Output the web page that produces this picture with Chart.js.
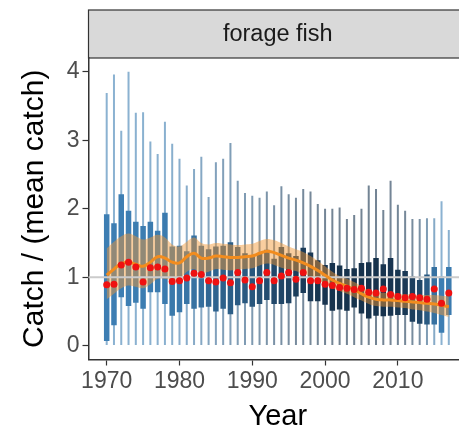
<!DOCTYPE html>
<html><head><meta charset="utf-8">
<script src="https://cdn.jsdelivr.net/npm/chart.js@4/dist/chart.umd.min.js"></script>
<style>
html,body{margin:0;padding:0;background:#fff;overflow:hidden;width:459px;height:431px;}
#wrap{position:absolute;left:0;top:0;width:471px;height:431px;}
</style></head><body>
<div id="wrap"><canvas id="c"></canvas></div>
<script>
// ---- data ----
const panelTitle = 'forage fish';
const years = [1970,1971,1972,1973,1974,1975,1976,1977,1978,1979,1980,1981,1982,1983,1984,1985,1986,1987,1988,1989,
  1990,1991,1992,1993,1994,1995,1996,1997,1998,1999,2000,2001,2002,2003,2004,2005,2006,2007,2008,2009,
  2010,2011,2012,2013,2014,2015,2016,2017];
const whiskerLow = [0.01,0.01,0.01,0.01,0.01,0.01,0.01,0.01,0.01,0.01,0.01,0.01,0.01,0.01,0.01,0.01,0.01,0.01,0.01,0.01,
  0.01,0.01,0.01,0.01,0.01,0.01,0.01,0.01,0.01,0.01,0.01,0.01,0.01,0.01,0.01,0.01,0.01,0.01,0.01,0.01,
  0.01,0.01,0.01,0.01,0.01,0.01,0.01,0.01];
const whiskerHigh = [3.69,3.96,3.14,4.00,3.40,3.41,2.98,2.80,3.27,2.95,2.73,2.34,2.58,2.76,2.17,2.68,2.73,2.96,2.41,2.23,
  2.19,2.16,2.25,2.05,2.33,2.21,2.16,2.29,2.25,2.07,2.00,2.00,2.02,1.85,1.91,2.00,2.34,2.29,1.98,2.41,
  2.06,1.97,1.85,1.85,1.86,1.86,2.11,1.69];
const boxLow = [0.07,0.30,0.71,0.58,0.63,0.54,0.78,0.78,0.61,0.44,0.49,0.61,0.54,0.56,0.57,0.50,0.54,0.46,0.59,0.62,
  0.57,0.61,0.67,0.61,0.61,0.62,0.72,0.77,0.65,0.65,0.60,0.51,0.53,0.51,0.56,0.47,0.40,0.44,0.43,0.44,
  0.45,0.45,0.35,0.32,0.31,0.31,0.19,0.45];
const boxHigh = [1.92,1.79,2.21,1.97,1.81,1.75,1.81,1.68,1.94,1.45,1.46,1.38,1.61,1.46,1.41,1.45,1.46,1.51,1.44,1.35,
  1.30,1.34,1.40,1.27,1.44,1.35,1.31,1.43,1.36,1.25,1.18,1.21,1.17,1.12,1.13,1.21,1.22,1.28,1.19,1.28,
  1.11,1.09,1.01,0.96,1.04,1.15,1.01,1.15];
const medians = [0.89,0.90,1.18,1.22,1.15,0.93,1.14,1.15,1.12,0.94,0.95,0.99,1.06,1.04,0.95,0.93,0.99,0.92,1.07,0.96,
  0.86,0.95,1.07,0.95,1.02,1.07,0.97,1.07,0.95,0.95,0.90,0.88,0.85,0.84,0.82,0.84,0.78,0.77,0.83,0.75,
  0.72,0.70,0.72,0.70,0.68,0.83,0.62,0.77];
const trend = [1.03,1.12,1.20,1.22,1.19,1.16,1.22,1.30,1.28,1.22,1.21,1.30,1.35,1.28,1.28,1.31,1.30,1.29,1.29,1.30,
  1.31,1.35,1.38,1.36,1.32,1.28,1.25,1.21,1.16,1.10,1.03,0.96,0.91,0.87,0.82,0.76,0.71,0.68,0.67,0.67,
  0.66,0.65,0.64,0.63,0.62,0.61,0.59,0.57];
const trendHigh = [1.42,1.52,1.60,1.64,1.60,1.55,1.58,1.62,1.58,1.48,1.45,1.52,1.58,1.50,1.48,1.50,1.49,1.48,1.47,1.48,
  1.49,1.53,1.56,1.54,1.50,1.45,1.41,1.37,1.31,1.24,1.16,1.08,1.02,0.98,0.93,0.87,0.81,0.78,0.77,0.77,
  0.76,0.75,0.75,0.74,0.74,0.74,0.73,0.72];
const trendLow = [0.68,0.76,0.84,0.88,0.86,0.84,0.90,0.98,0.98,0.96,0.97,1.08,1.12,1.06,1.08,1.12,1.11,1.10,1.11,1.12,
  1.13,1.17,1.20,1.18,1.14,1.11,1.09,1.05,1.01,0.96,0.90,0.84,0.80,0.76,0.71,0.66,0.61,0.58,0.57,0.57,
  0.56,0.55,0.53,0.52,0.50,0.48,0.45,0.42];
// value mapped to the fill colour scale (0 = dark, 1 = light)
const colourValue = [0.62,0.62,0.62,0.62,0.61,0.61,0.60,0.60,0.60,0.58,0.57,0.55,0.53,0.50,0.45,0.42,0.40,0.38,0.36,0.34,
  0.32,0.28,0.25,0.22,0.20,0.17,0.14,0.12,0.10,0.08,0.07,0.06,0.05,0.05,0.05,0.05,0.05,0.05,0.06,0.07,
  0.08,0.10,0.15,0.20,0.35,0.52,0.62,0.60];
const referenceLevel = 1;
const xTickValues = [1970,1980,1990,2000,2010];
const yTickValues = [0,1,2,3,4];
const xTitle = 'Year';
const yTitle = 'Catch / (mean catch)';

// ---- styling ----
const FONT = "'Liberation Sans', Arial, Helvetica, sans-serif";
const xMin = 1967.5, xMax = 2019.5, yMin = -0.2, yMax = 4.2;
const lowC = [19,43,67], highC = [86,177,247];
function shade(v, a){
  const c = lowC.map((l,k)=>Math.round(l + (highC[k]-l)*v));
  return `rgba(${c[0]},${c[1]},${c[2]},${a})`;
}
const rangePts = (lo, hi) => years.map((yr,i)=>({x:yr, y:[lo[i], hi[i]]}));
const linePts = arr => years.map((yr,i)=>({x:yr, y:arr[i]}));

const stripPlugin = {
  id:'strip',
  beforeDraw(chart){
    const t = chart.titleBlock, ca = chart.chartArea, ctx = chart.ctx;
    if(!t) return;
    ctx.save();
    ctx.fillStyle = '#d9d9d9';
    ctx.fillRect(ca.left, t.top, ca.right-ca.left, t.bottom-t.top);
    ctx.strokeStyle = '#333';
    ctx.lineWidth = 1.2;
    ctx.strokeRect(ca.left, t.top, ca.right-ca.left, t.bottom-t.top);
    ctx.restore();
  }
};

new Chart(document.getElementById('c'), {
  type:'bar',
  data:{
    datasets:[
      {type:'bar', label:'range', data:rangePts(whiskerLow, whiskerHigh),
        backgroundColor:years.map((_,i)=>shade(colourValue[i],0.6)), barThickness:2, inflateAmount:0, grouped:false, order:6},
      {type:'bar', label:'interquartile', data:rangePts(boxLow, boxHigh),
        backgroundColor:years.map((_,i)=>shade(colourValue[i],1)), barThickness:5.5, inflateAmount:0, grouped:false, order:5},
      {type:'line', label:'trend upper', data:linePts(trendHigh), borderWidth:0, pointRadius:0,
        fill:'+1', backgroundColor:'rgba(243,150,50,0.47)', tension:0.4, order:4},
      {type:'line', label:'trend lower', data:linePts(trendLow), borderWidth:0, pointRadius:0,
        fill:false, tension:0.4, order:4},
      {type:'line', label:'reference', data:[{x:xMin-5,y:referenceLevel},{x:xMax+5,y:referenceLevel}],
        borderColor:'#cbcbcb', borderWidth:2, pointRadius:0, fill:false, order:3},
      {type:'line', label:'trend', data:linePts(trend), borderColor:'#f28c1e', borderWidth:3,
        pointRadius:0, fill:false, tension:0.4, order:2},
      {type:'scatter', label:'median', data:linePts(medians), backgroundColor:'#ee1111',
        pointRadius:3.5, pointBorderWidth:0, order:1}
    ]
  },
  options:{
    responsive:true, maintainAspectRatio:false, animation:false,
    layout:{padding:{top:10,left:0,right:0,bottom:0}},
    plugins:{
      legend:{display:false}, tooltip:{enabled:false},
      title:{display:true, text:panelTitle, fullSize:false, color:'#1a1a1a',
        font:{family:FONT, size:23.5, weight:'normal', lineHeight:1.2}, padding:{top:10,bottom:9.8}}
    },
    scales:{
      x:{type:'linear', min:xMin, max:xMax, offset:false,
        afterBuildTicks:s=>{ s.ticks = xTickValues.map(v=>({value:v})); },
        afterFit:s=>{ s.height = 71.5; },
        grid:{display:true, drawOnChartArea:false, drawTicks:true, tickLength:6, tickWidth:1.2, tickColor:'#333', offset:false},
        border:{display:true, color:'#333', width:1.5},
        ticks:{color:'#4d4d4d', font:{family:FONT, size:23}, padding:2, maxRotation:0, autoSkip:false, callback:v=>String(v)},
        title:{display:true, text:xTitle, color:'#000', font:{family:FONT, size:29, lineHeight:1}, padding:{top:0,bottom:0}}
      },
      y:{type:'linear', min:yMin, max:yMax,
        afterBuildTicks:s=>{ s.ticks = yTickValues.map(v=>({value:v})); },
        afterFit:s=>{ s.width = 88.5; },
        grid:{display:true, drawOnChartArea:false, drawTicks:true, tickLength:6, tickWidth:1.2, tickColor:'#333'},
        border:{display:true, color:'#333', width:1.5},
        ticks:{color:'#4d4d4d', font:{family:FONT, size:23}, padding:3, autoSkip:false, callback:v=>String(v)},
        title:{display:true, text:yTitle, color:'#000', font:{family:FONT, size:30, lineHeight:1}, padding:{top:20,bottom:0}}
      }
    }
  },
  plugins:[stripPlugin]
});
</script>
</body></html>
